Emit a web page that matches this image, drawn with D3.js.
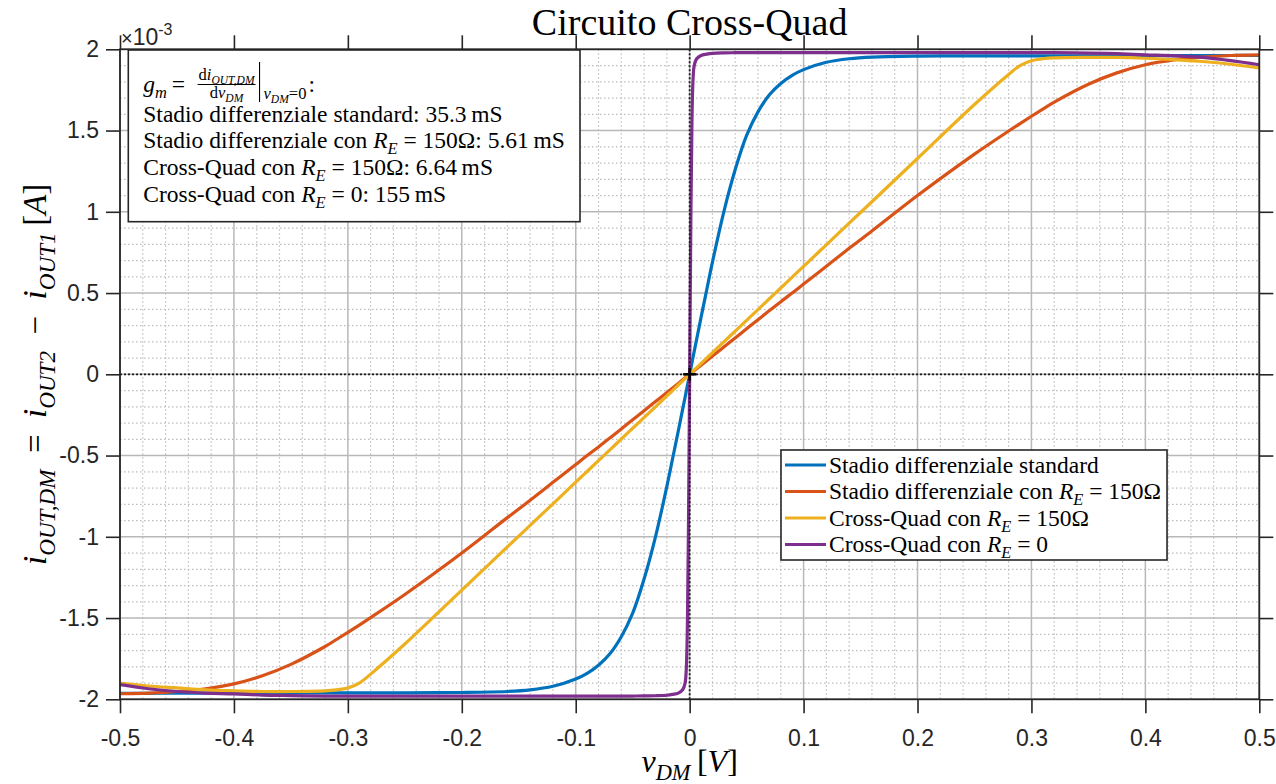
<!DOCTYPE html>
<html>
<head>
<meta charset="utf-8">
<script src="https://cdn.jsdelivr.net/npm/d3@7"></script>
<style>
  body { margin: 0; background: #fff; }
  svg { display: block; }
</style>
</head>
<body>
<div id="chart"></div>
<script>
// v_DM [V]
var vDM = [-0.5, -0.475, -0.45, -0.425, -0.4, -0.375, -0.35, -0.32, -0.31, -0.3, -0.29, -0.28, -0.25,
  -0.2, -0.16, -0.14, -0.12, -0.1, -0.09, -0.08, -0.07, -0.06, -0.05,
  -0.04, -0.03, -0.02, -0.015, -0.01, -0.006, -0.004, -0.003, -0.002, -0.001,
  0,
  0.001, 0.002, 0.003, 0.004, 0.006, 0.01, 0.015, 0.02, 0.03, 0.04,
  0.05, 0.06, 0.07, 0.08, 0.09, 0.1, 0.12, 0.14, 0.16, 0.2,
  0.25, 0.28, 0.29, 0.3, 0.31, 0.32, 0.35, 0.375, 0.4, 0.425, 0.45, 0.475, 0.5];

// i_OUT,DM [x1e-3 A]
var iStandard = [-1.964, -1.963, -1.962, -1.962, -1.961, -1.96, -1.96, -1.96, -1.96, -1.96, -1.96, -1.96, -1.96,
  -1.958, -1.952, -1.942, -1.92, -1.875, -1.84, -1.79, -1.72, -1.615, -1.47,
  -1.26, -1.0, -0.69, -0.52, -0.35, -0.21, -0.141, -0.106, -0.07, -0.035,
  0,
  0.035, 0.07, 0.106, 0.141, 0.21, 0.35, 0.52, 0.69, 1.0, 1.26,
  1.47, 1.615, 1.72, 1.79, 1.84, 1.875, 1.92, 1.942, 1.952, 1.958,
  1.96, 1.96, 1.96, 1.96, 1.96, 1.96, 1.96, 1.96, 1.961, 1.961, 1.961, 1.962, 1.962];

var iStandardRE = [-1.966, -1.962, -1.952, -1.935, -1.905, -1.855, -1.785, -1.675, -1.632, -1.588, -1.543, -1.497, -1.355,
  -1.1, -0.882, -0.775, -0.665, -0.555, -0.5, -0.447, -0.392, -0.336, -0.28,
  -0.224, -0.168, -0.112, -0.084, -0.056, -0.034, -0.022, -0.017, -0.011, -0.0056,
  0,
  0.0056, 0.011, 0.017, 0.022, 0.034, 0.056, 0.084, 0.112, 0.168, 0.224,
  0.28, 0.336, 0.392, 0.447, 0.5, 0.555, 0.665, 0.775, 0.882, 1.1,
  1.355, 1.497, 1.543, 1.588, 1.632, 1.675, 1.785, 1.855, 1.905, 1.935, 1.952, 1.962, 1.966];

var iCrossQuadRE = [-1.9, -1.918, -1.93, -1.942, -1.948, -1.952, -1.952, -1.948, -1.942, -1.93, -1.9, -1.845, -1.66,
  -1.328, -1.062, -0.93, -0.797, -0.664, -0.598, -0.531, -0.465, -0.398, -0.332,
  -0.266, -0.2, -0.133, -0.1, -0.066, -0.04, -0.0266, -0.02, -0.0133, -0.0066,
  0,
  0.0066, 0.0133, 0.02, 0.0266, 0.04, 0.066, 0.1, 0.133, 0.2, 0.266,
  0.332, 0.398, 0.465, 0.531, 0.598, 0.664, 0.797, 0.93, 1.062, 1.328,
  1.66, 1.845, 1.9, 1.93, 1.942, 1.947, 1.95, 1.95, 1.945, 1.937, 1.925, 1.908, 1.885];

var iCrossQuad0 = [-1.91, -1.935, -1.952, -1.962, -1.967, -1.974, -1.977, -1.98, -1.98, -1.98, -1.98, -1.98, -1.98,
  -1.98, -1.98, -1.98, -1.98, -1.98, -1.98, -1.98, -1.98, -1.98, -1.98,
  -1.979, -1.978, -1.975, -1.97, -1.962, -1.94, -1.9, -1.82, -1.55, -0.9,
  0,
  0.9, 1.55, 1.82, 1.9, 1.94, 1.962, 1.97, 1.975, 1.978, 1.979,
  1.98, 1.98, 1.98, 1.98, 1.98, 1.98, 1.98, 1.98, 1.98, 1.98,
  1.98, 1.98, 1.98, 1.98, 1.98, 1.98, 1.977, 1.973, 1.966, 1.96, 1.95, 1.93, 1.905];

var xTicks = [-0.5, -0.4, -0.3, -0.2, -0.1, 0, 0.1, 0.2, 0.3, 0.4, 0.5];
var yTicks = [-2, -1.5, -1, -0.5, 0, 0.5, 1, 1.5, 2];
var gmValues = ['35.3', '5.61', '6.64', '155'];

// labels as [text, flags]: i = italic, _ = subscript, ^ = superscript
var seriesLabels = [
  [['Stadio differenziale standard']],
  [['Stadio differenziale con '], ['R', 'i'], ['E', 'i_'], [' = 150Ω']],
  [['Cross-Quad con '], ['R', 'i'], ['E', 'i_'], [' = 150Ω']],
  [['Cross-Quad con '], ['R', 'i'], ['E', 'i_'], [' = 0']]
];
var colors = ['#0072BD', '#D95319', '#EDB120', '#7E2F8E'];
var seriesValues = [iStandard, iStandardRE, iCrossQuadRE, iCrossQuad0];

var W = 1276, H = 784;
var margin = {top: 49.3, right: 16.7, bottom: 84.7, left: 120},
    width = W - margin.left - margin.right,
    height = H - margin.top - margin.bottom;

var axisColor = '#262626';
var serif = '"Liberation Serif", "Times New Roman", serif';
var sans = '"Liberation Sans", Arial, sans-serif';

var svg = d3.select('#chart').append('svg')
    .attr('width', W)
    .attr('height', H)
    .style('font-family', serif);

var g = svg.append('g')
    .attr('transform', 'translate(' + margin.left + ',' + margin.top + ')');

var x = d3.scaleLinear().domain([-0.5, 0.5]).range([0, width]);
var y = d3.scaleLinear().domain([-2, 2]).range([height, 0]);

// writes a list of parts into a text element, with sub/superscripts
function rich(textSel, parts, size) {
    var off = function(l) { return l === 0 ? 0 : (l < 0 ? size * 0.26 : -size * 0.42); };
    var level = 0;
    parts.forEach(function(p) {
        var flags = p[1] || '';
        var lv = flags.indexOf('_') >= 0 ? -1 : (flags.indexOf('^') >= 0 ? 1 : 0);
        textSel.append('tspan')
            .text(p[0])
            .attr('font-size', lv === 0 ? size : size * 0.7)
            .attr('font-style', flags.indexOf('i') >= 0 ? 'italic' : 'normal')
            .attr('dy', off(lv) - off(level));
        level = lv;
    });
    return textSel;
}

// minor grid
var xMinor = d3.range(-25, 26).filter(function(k) { return k % 5 !== 0; }).map(function(k) { return k * 0.02; });
var yMinor = d3.range(-20, 21).filter(function(k) { return k % 5 !== 0; }).map(function(k) { return k / 10; });

var grid = g.append('g').attr('class', 'grid');
grid.selectAll('.xminor').data(xMinor).enter().append('line')
    .attr('x1', function(d) { return x(d); }).attr('x2', function(d) { return x(d); })
    .attr('y1', 0).attr('y2', height)
    .style('stroke', '#bcbcbc').style('stroke-width', 1.2).style('stroke-dasharray', '1.5,2.5');
grid.selectAll('.yminor').data(yMinor).enter().append('line')
    .attr('y1', function(d) { return y(d); }).attr('y2', function(d) { return y(d); })
    .attr('x1', 0).attr('x2', width)
    .style('stroke', '#bcbcbc').style('stroke-width', 1.2).style('stroke-dasharray', '1.5,2.5');

// major grid
grid.selectAll('.xmajor').data(xTicks).enter().append('line')
    .attr('x1', function(d) { return x(d); }).attr('x2', function(d) { return x(d); })
    .attr('y1', 0).attr('y2', height)
    .style('stroke', '#b8b8b8').style('stroke-width', 1.5);
grid.selectAll('.ymajor').data(yTicks).enter().append('line')
    .attr('y1', function(d) { return y(d); }).attr('y2', function(d) { return y(d); })
    .attr('x1', 0).attr('x2', width)
    .style('stroke', '#b8b8b8').style('stroke-width', 1.5);

g.append('clipPath').attr('id', 'plotclip')
    .append('rect').attr('x', 0).attr('y', 0).attr('width', width).attr('height', height);

// curves
var line = d3.line()
    .x(function(d, i) { return x(vDM[i]); })
    .y(function(d) { return y(d); })
    .curve(d3.curveCatmullRom.alpha(0.5));

g.append('g').attr('clip-path', 'url(#plotclip)')
    .selectAll('path').data(seriesValues).enter().append('path')
    .attr('d', function(d) { return line(d); })
    .style('fill', 'none')
    .style('stroke', function(d, i) { return colors[i]; })
    .style('stroke-width', 3.2)
    .style('stroke-linejoin', 'round');

// zero lines
g.append('line')
    .attr('x1', 0).attr('x2', width).attr('y1', y(0)).attr('y2', y(0))
    .style('stroke', '#1a1a1a').style('stroke-width', 1.8).style('stroke-dasharray', '2,2');
g.append('line')
    .attr('x1', x(0)).attr('x2', x(0)).attr('y1', 0).attr('y2', height)
    .style('stroke', '#1a1a1a').style('stroke-width', 1.8).style('stroke-dasharray', '2,2');

// origin marker
var plus = g.append('g').attr('transform', 'translate(' + x(0) + ',' + y(0) + ')');
plus.append('line').attr('x1', -6.5).attr('x2', 6.5).attr('y1', 0).attr('y2', 0)
    .style('stroke', '#000').style('stroke-width', 2.5);
plus.append('line').attr('y1', -6.5).attr('y2', 6.5).attr('x1', 0).attr('x2', 0)
    .style('stroke', '#000').style('stroke-width', 2.5);

// axes
function styleAxis(sel) {
    sel.select('.domain').remove();
    sel.selectAll('.tick line').style('stroke', axisColor).style('stroke-width', 1.6);
    sel.selectAll('.tick text').style('fill', axisColor).style('font-family', sans).style('font-size', '23px');
}
var fmt = function(d) { return String(d); };

g.append('g').attr('transform', 'translate(0,' + height + ')')
    .call(d3.axisBottom(x).tickValues(xTicks).tickSize(14).tickPadding(16).tickFormat(fmt))
    .call(styleAxis);
g.append('g')
    .call(d3.axisTop(x).tickValues(xTicks).tickSize(14).tickFormat(''))
    .call(styleAxis);
g.append('g')
    .call(d3.axisLeft(y).tickValues(yTicks).tickSize(14).tickPadding(7).tickFormat(fmt))
    .call(styleAxis);
g.append('g').attr('transform', 'translate(' + width + ',0)')
    .call(d3.axisRight(y).tickValues(yTicks).tickSize(14).tickFormat(''))
    .call(styleAxis);

g.append('rect')
    .attr('width', width).attr('height', height)
    .style('fill', 'none').style('stroke', axisColor).style('stroke-width', 1.8);

// exponent
var expo = svg.append('text')
    .attr('x', margin.left + 1).attr('y', 45)
    .style('font-family', sans).style('fill', axisColor);
expo.append('tspan').text('×').attr('font-size', 20);
expo.append('tspan').text('10').attr('font-size', 23);
expo.append('tspan').text('-3').attr('font-size', 16).attr('dy', -10);

// title
svg.append('text')
    .attr('x', margin.left + width / 2).attr('y', 35)
    .attr('text-anchor', 'middle')
    .style('font-size', '38px').style('fill', '#000')
    .text('Circuito Cross-Quad');

// axis labels
rich(svg.append('text')
    .attr('x', margin.left + width / 2).attr('y', 772)
    .attr('text-anchor', 'middle').style('fill', '#000'),
    [['v', 'i'], ['DM', 'i_'], ['\u2009['], ['V', 'i'], [']']], 32);

rich(svg.append('text')
    .attr('transform', 'translate(46,' + (margin.top + height / 2) + ') rotate(-90)')
    .attr('text-anchor', 'middle').style('fill', '#000'),
    [['i', 'i'], ['OUT,DM', 'i_'], ['\u2002=\u2002'], ['i', 'i'], ['OUT2', 'i_'], ['\u2002−\u2002'],
     ['i', 'i'], ['OUT1', 'i_'], ['\u2009['], ['A', 'i'], [']']], 33);

// annotation box
var fs = 23.5, small = 16.5;
var ann = svg.append('g');
ann.append('rect')
    .attr('x', 128.3).attr('y', 50).attr('width', 451.7).attr('height', 171.7)
    .style('fill', '#fff').style('stroke', axisColor).style('stroke-width', 1.6);

var ax0 = 143.3, base0 = 91.7;
var t1 = rich(ann.append('text').attr('x', ax0).attr('y', base0),
    [['g', 'i'], ['m', 'i_'], ['\u2009=\u2009']], fs);
var w1 = t1.node().getComputedTextLength();

var num = rich(ann.append('text').attr('y', 80).attr('text-anchor', 'middle'),
    [['d'], ['i', 'i'], ['OUT,DM', 'i_']], small);
var den = rich(ann.append('text').attr('y', 97.5).attr('text-anchor', 'middle'),
    [['d'], ['v', 'i'], ['DM', 'i_']], small);
var fw = Math.max(num.node().getComputedTextLength(), den.node().getComputedTextLength()) + 2;
var xc = ax0 + w1 + 8 + fw / 2;
num.attr('x', xc);
den.attr('x', xc);
ann.append('line')
    .attr('x1', xc - fw / 2).attr('x2', xc + fw / 2).attr('y1', 84.5).attr('y2', 84.5)
    .style('stroke', '#000').style('stroke-width', 1);
var barX = xc + fw / 2 + 4;
ann.append('line')
    .attr('x1', barX).attr('x2', barX).attr('y1', 62).attr('y2', 102)
    .style('stroke', '#000').style('stroke-width', 1.1);
var ev = rich(ann.append('text').attr('x', barX + 4).attr('y', 99),
    [['v', 'i'], ['DM', 'i_'], ['=0']], small);
ann.append('text')
    .attr('x', barX + 6 + ev.node().getComputedTextLength()).attr('y', base0)
    .style('font-size', fs + 'px').text(':');

var annBase = [121.7, 148.3, 175, 201.7];
seriesLabels.forEach(function(parts, k) {
    rich(ann.append('text').attr('x', ax0).attr('y', annBase[k]),
        parts.concat([[': ' + gmValues[k] + '\u2009mS']]), fs);
});

// legend
var leg = svg.append('g');
var legRect = leg.append('rect')
    .attr('x', 781).attr('y', 450).attr('height', 110)
    .style('fill', '#fff').style('stroke', axisColor).style('stroke-width', 1.6);
var maxEnd = 0;
seriesLabels.forEach(function(parts, k) {
    var ly = 465 + k * 26.5;
    leg.append('line')
        .attr('x1', 785).attr('x2', 826).attr('y1', ly).attr('y2', ly)
        .style('stroke', colors[k]).style('stroke-width', 3.2);
    var t = rich(leg.append('text').attr('x', 829).attr('y', ly + 7.5), parts, fs);
    maxEnd = Math.max(maxEnd, 829 + t.node().getComputedTextLength());
});
legRect.attr('width', maxEnd + 6 - 781);
</script>
</body>
</html>
